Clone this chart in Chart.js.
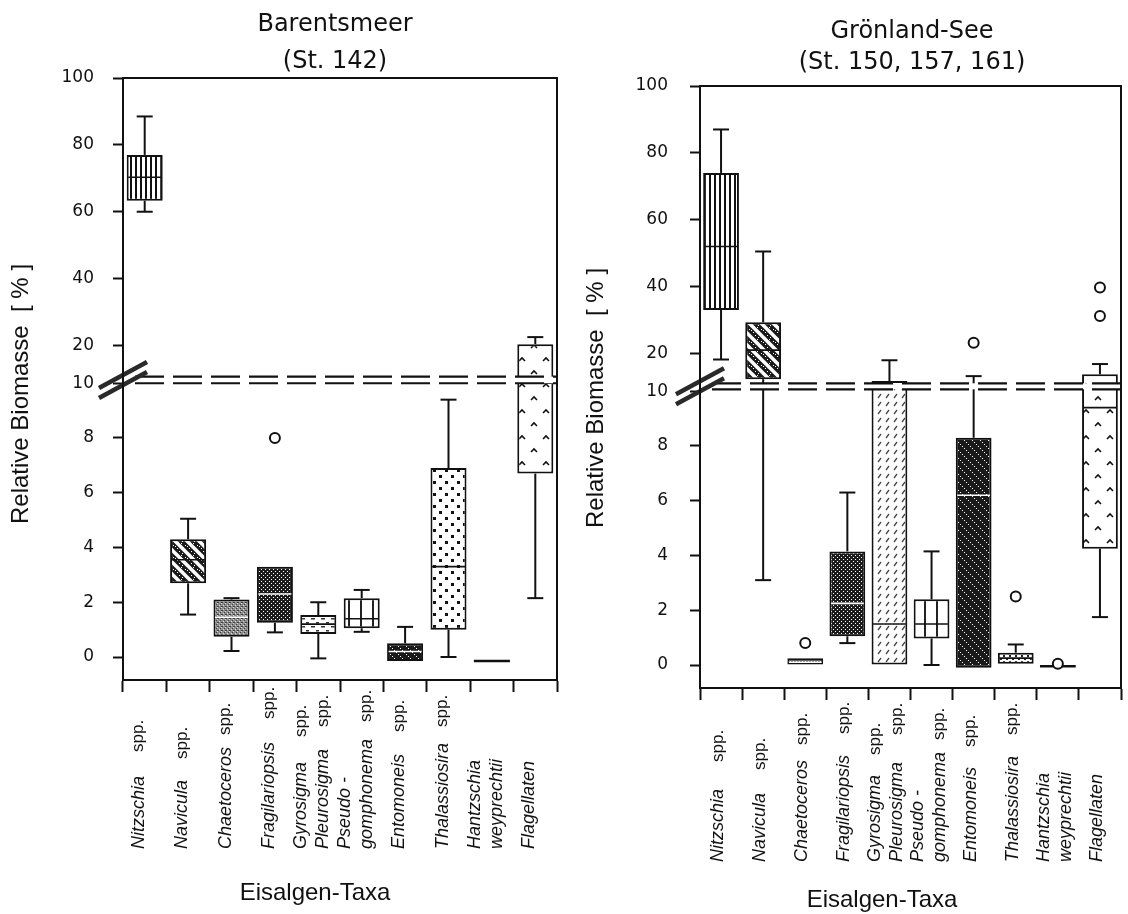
<!DOCTYPE html>
<html>
<head>
<meta charset="utf-8">
<script src="https://cdn.jsdelivr.net/npm/chart.js@4.4.1/dist/chart.umd.min.js"></script>
<style>
  html, body { margin: 0; padding: 0; background: #fff; }
  #wrap { position: relative; width: 1128px; height: 914px; overflow: hidden; }
  canvas { position: absolute; top: 0; }
  #barents { left: 0; }
  #groen { left: 564px; }
</style>
</head>
<body>
<div id="wrap">
  <canvas id="barents" width="564" height="914"></canvas>
  <canvas id="groen" width="564" height="914"></canvas>
</div>
<script>
// ---- categories (ice-algae taxa) ----
const taxa = ['Nitzschia', 'Navicula', 'Chaetoceros', 'Fragilariopsis', 'Gyrosigma/Pleurosigma',
              'Pseudo-gomphonema', 'Entomoneis', 'Thalassiosira', 'Hantzschia weyprechtii', 'Flagellaten'];
// rotated tick labels: each line is [genus (italic), suffix (upright)]
const taxaLines = [
  [['Nitzschia', 'spp.']],
  [['Navicula', 'spp.']],
  [['Chaetoceros', 'spp.']],
  [['Fragilariopsis', 'spp.']],
  [['Gyrosigma', 'spp.'], ['Pleurosigma', 'spp.']],
  [['Pseudo -', ''], ['gomphonema', 'spp.']],
  [['Entomoneis', 'spp.']],
  [['Thalassiosira', 'spp.']],
  [['Hantzschia', ''], ['weyprechtii', '']],
  [['Flagellaten', '']]
];

// ---- Barentsmeer (St. 142): relative biomass in % ----
const barMin      = [60.0, 1.55, 0.22, 0.90, -0.05, 0.92, -0.15, 0.00, -0.15, 2.15];
const barQ1       = [63.3, 2.69, 0.74, 1.25,  0.84, 1.05, -0.15, 1.00, -0.15, 6.70];
const barMedian   = [70.3, 3.55, 1.45, 2.30,  1.20, 1.40,  0.20, 3.30, -0.15, 10.0];
const barQ3       = [77.0, 4.30, 2.10, 3.30,  1.53, 2.15,  0.50, 6.90, -0.15, 20.4];
const barMax      = [88.5, 5.05, 2.15, 3.30,  2.00, 2.45,  1.10, 9.40, -0.15, 22.5];
const barOutliers = [[], [], [], [8.0], [], [], [], [], [], []];

// ---- Grönland-See (St. 150, 157, 161) ----
const groMin      = [18.4,  3.1, 0.00, 0.80,  0.0, 0.00, -0.10, 0.05, -0.05, 1.75];
const groQ1       = [33.0, 13.2, 0.00, 1.05,  0.0, 0.97, -0.10, 0.05, -0.05, 4.25];
const groMedian   = [52.0, 21.0, 0.10, 2.25,  1.5, 1.50,  6.20, 0.25, -0.05, 9.40];
const groQ3       = [74.0, 29.3, 0.25, 4.15, 12.7, 2.40,  8.30, 0.45, -0.05, 14.5];
const groMax      = [87.0, 50.5, 0.25, 6.30, 18.2, 4.15, 14.00, 0.75, -0.05, 17.2];
const groOutliers = [[], [], [0.8], [], [], [], [23.2], [2.5], [0.05], [31.2, 39.7]];

// ---- y axis ticks ----
const yTickValues = [0, 2, 4, 6, 8, 10, 20, 40, 60, 80, 100];

// broken axis: linear up to 10, compressed above
const breakFrom = [0, 10, 20, 100];
const breakTo   = [0, 10, 11.38, 21.15];
function toAxis(v) {
  if (v <= breakFrom[1]) return v;
  for (let k = 1; k < breakFrom.length - 1; k++) {
    if (v <= breakFrom[k + 1]) {
      const f = (v - breakFrom[k]) / (breakFrom[k + 1] - breakFrom[k]);
      return breakTo[k] + f * (breakTo[k + 1] - breakTo[k]);
    }
  }
  return breakTo[breakTo.length - 1];
}

// ---- hatch fills ----
function makeTile(w, h, paint) {
  const c = document.createElement('canvas');
  c.width = w; c.height = h;
  const g = c.getContext('2d');
  g.fillStyle = '#fff';
  g.fillRect(0, 0, w, h);
  paint(g);
  return c;
}
const tiles = {
  vstripe: makeTile(5, 5, g => { g.fillStyle = '#111'; g.fillRect(0, 0, 2, 5); }),
  diagband: makeTile(12, 12, g => {
    g.strokeStyle = '#1a1a1a'; g.lineWidth = 5;
    for (const o of [-12, 0, 12]) { g.beginPath(); g.moveTo(o - 2, -2); g.lineTo(o + 14, 14); g.stroke(); }
    g.fillStyle = '#fff';
    [[2, 1], [5, 5], [9, 8], [11, 11], [1, 3], [7, 6]].forEach(p => g.fillRect(p[0], p[1], 1, 1));
  }),
  gray: makeTile(4, 4, g => {
    g.fillStyle = '#8e8e8e'; g.fillRect(0, 0, 4, 4);
    g.fillStyle = '#3c3c3c'; g.fillRect(0, 0, 1, 1); g.fillRect(2, 2, 1, 1); g.fillRect(1, 2, 1, 1);
    g.fillStyle = '#d8d8d8'; g.fillRect(1, 3, 1, 1); g.fillRect(3, 1, 1, 1);
  }),
  stipple: makeTile(4, 4, g => {
    g.fillStyle = '#1c1c1c'; g.fillRect(0, 0, 4, 4);
    g.fillStyle = '#fff'; g.fillRect(1, 1, 1, 1); g.fillRect(3, 3, 1, 1);
  }),
  darkdot: makeTile(3, 3, g => {
    g.fillStyle = '#444'; g.fillRect(0, 0, 3, 3);
    g.fillStyle = '#ddd'; g.fillRect(1, 1, 1, 1);
  }),
  dashes: makeTile(10, 8, g => {
    g.fillStyle = '#333'; g.fillRect(1, 2, 4, 1.5); g.fillRect(6, 6, 3, 1.5);
  }),
  slashes: makeTile(8, 8, g => {
    g.strokeStyle = '#444'; g.lineWidth = 1.3;
    g.beginPath(); g.moveTo(2, 6); g.lineTo(5, 2); g.stroke();
  }),
  vgrid: makeTile(12, 2, g => { g.fillStyle = '#222'; g.fillRect(0, 0, 2, 2); }),
  darkdiag: makeTile(8, 8, g => {
    g.fillStyle = '#1a1a1a'; g.fillRect(0, 0, 8, 8);
    g.fillStyle = '#fff'; [0, 2, 4, 6].forEach(i => g.fillRect(i, i, 1, 1));
  }),
  squares: makeTile(12, 12, g => {
    g.fillStyle = '#111'; g.fillRect(1, 1, 3, 3); g.fillRect(7, 7, 3, 3);
  }),
  dots: makeTile(6, 6, g => {
    g.fillStyle = '#222'; g.fillRect(1, 1, 2, 2); g.fillRect(4, 4, 2, 2);
  }),
  carets: makeTile(24, 26, g => {
    g.strokeStyle = '#111'; g.lineWidth = 1.6;
    [[6, 7], [18, 20]].forEach(p => {
      g.beginPath(); g.moveTo(p[0] - 3, p[1] + 3); g.lineTo(p[0], p[1]); g.lineTo(p[0] + 3, p[1] + 3); g.stroke();
    });
  }),
  none: makeTile(2, 2, () => {})
};
const darkFills = new Set(['gray', 'stipple', 'darkdot', 'darkdiag']);

const leftFills  = ['vstripe', 'diagband', 'gray', 'stipple', 'dashes', 'vgrid', 'darkdiag', 'squares', 'none', 'carets'];
const rightFills = ['vstripe', 'diagband', 'darkdot', 'stipple', 'slashes', 'vgrid', 'darkdiag', 'dots', 'none', 'carets'];

// gap (px) between genus name and "spp."
const leftSppGap  = [[24], [21], [12], [23], [25, 22], [0, 17], [22], [16], [0, 0], [0]];
const rightSppGap = [[27], [23], [15], [21], [20, 27], [0, 12], [20], [21], [0, 0], [0]];

const TITLE_FONT = "'DejaVu Sans', sans-serif";
const TEXT_FONT = "'Liberation Sans', Arial, sans-serif";

// whiskers, medians, axis break, frame and text
const boxDecor = {
  id: 'boxDecor',
  afterDatasetDraw(chart, args, o) {
    if (args.meta.type !== 'bar') return;
    const ctx = chart.ctx, ys = chart.scales.y;
    const Y = v => ys.getPixelForValue(toAxis(v));
    const line = (x1, y1, x2, y2) => { ctx.beginPath(); ctx.moveTo(x1, y1); ctx.lineTo(x2, y2); ctx.stroke(); };
    ctx.save();
    o.q1.forEach((q1, i) => {
      const el = args.meta.data[i];
      const x = el.x, half = el.width / 2, cap = 8;
      const q3 = o.q3[i], lo = o.min[i], hi = o.max[i], med = o.median[i];
      ctx.strokeStyle = '#111'; ctx.lineWidth = 2;
      if (hi > q3) { line(x, Y(q3), x, Y(hi)); line(x - cap, Y(hi), x + cap, Y(hi)); }
      if (lo < q1) { line(x, Y(q1), x, Y(lo)); line(x - cap, Y(lo), x + cap, Y(lo)); }
      if (q3 > q1) {
        ctx.strokeStyle = darkFills.has(o.fills[i]) ? '#fff' : '#111';
        ctx.lineWidth = 1.6;
        line(x - half + 1.5, Y(med), x + half - 1.5, Y(med));
      } else {
        ctx.lineWidth = 2.5;
        line(x - half, Y(med), x + half, Y(med));
      }
    });
    ctx.restore();
  },
  afterDatasetsDraw(chart, args, o) {
    const ctx = chart.ctx, a = chart.chartArea, ys = chart.scales.y;
    const yLo = ys.getPixelForValue(o.breakLines[0]);
    const yHi = ys.getPixelForValue(o.breakLines[1]);
    ctx.save();
    // blank band of the axis break
    ctx.fillStyle = '#fff';
    ctx.fillRect(a.left + 1, yHi, a.right - a.left - 2, yLo - yHi);
    ctx.strokeStyle = '#111';
    ctx.lineWidth = 2.2;
    ctx.setLineDash([29, 9]);
    [yLo, yHi].forEach(y => {
      ctx.beginPath(); ctx.moveTo(a.left + 12, y); ctx.lineTo(a.right, y); ctx.stroke();
    });
    ctx.setLineDash([]);
    // double slash on the y axis
    const yc = (yLo + yHi) / 2;
    ctx.lineWidth = 4.5;
    ctx.strokeStyle = '#2a2a2a';
    [-5, 5].forEach(d => {
      ctx.beginPath();
      ctx.moveTo(a.left - 24, yc + d + 13);
      ctx.lineTo(a.left + 24, yc + d - 13);
      ctx.stroke();
    });
    ctx.restore();
  },
  afterDraw(chart, args, o) {
    const ctx = chart.ctx, a = chart.chartArea, xs = chart.scales.x;
    ctx.save();
    // frame
    ctx.strokeStyle = '#111';
    ctx.lineWidth = 2;
    ctx.strokeRect(a.left, a.top, a.right - a.left, a.bottom - a.top);
    ctx.fillStyle = '#111';
    // title
    ctx.textAlign = 'center';
    ctx.textBaseline = 'middle';
    ctx.font = '24px ' + TITLE_FONT;
    o.title.forEach((t, k) => ctx.fillText(t, o.titleX, o.titleY[k]));
    // x axis title
    ctx.font = '24px ' + TEXT_FONT;
    ctx.fillText(o.xTitle, o.xTitleX, o.xTitleY);
    // y axis title
    ctx.save();
    ctx.translate(o.yTitleX, o.yTitleY);
    ctx.rotate(-Math.PI / 2);
    ctx.font = '24px ' + TEXT_FONT;
    ctx.fillText(o.yTitle, 0, 0);
    ctx.restore();
    // rotated taxon labels
    taxaLines.forEach((lines, i) => {
      const xc = xs.getPixelForValue(i) + o.labelShift;
      lines.forEach((ln, j) => {
        const lx = xc + (j - (lines.length - 1) / 2) * 22;
        ctx.save();
        ctx.translate(lx, o.labelStart);
        ctx.rotate(-Math.PI / 2);
        ctx.textAlign = 'left';
        ctx.textBaseline = 'middle';
        ctx.font = 'italic 18px ' + TEXT_FONT;
        ctx.fillText(ln[0], 0, 0);
        if (ln[1]) {
          const w = ctx.measureText(ln[0]).width;
          ctx.font = '17px ' + TEXT_FONT;
          ctx.fillText(ln[1], w + o.sppGap[i][j], 0);
        }
        ctx.restore();
      });
    });
    ctx.restore();
  }
};

function buildChart(id, s) {
  const ctx = document.getElementById(id).getContext('2d');
  const patterns = s.fills.map(f => ctx.createPattern(tiles[f], 'repeat'));
  const outlierPoints = [];
  s.outliers.forEach((arr, i) => arr.forEach(v => outlierPoints.push({ x: taxa[i], y: toAxis(v) })));
  return new Chart(ctx, {
    type: 'bar',
    data: {
      labels: taxa,
      datasets: [
        {
          type: 'bar',
          order: 2,
          data: s.q1.map((q, i) => [toAxis(q), toAxis(s.q3[i])]),
          backgroundColor: patterns,
          borderColor: '#111',
          borderWidth: 2,
          borderSkipped: false,
          barPercentage: s.barPct,
          categoryPercentage: 1
        },
        {
          type: 'line',
          order: 1,
          data: outlierPoints,
          showLine: false,
          pointStyle: 'circle',
          pointRadius: 5,
          pointBorderWidth: 2,
          pointBorderColor: '#111',
          pointBackgroundColor: '#fff'
        }
      ]
    },
    options: {
      responsive: false,
      animation: false,
      devicePixelRatio: 1,
      layout: { padding: { left: 0, top: s.top, right: s.right, bottom: 0 } },
      plugins: {
        legend: { display: false },
        tooltip: { enabled: false },
        boxDecor: {
          q1: s.q1, q3: s.q3, min: s.min, max: s.max, median: s.median, fills: s.fills,
          breakLines: s.breakLines,
          title: s.title, titleX: s.titleX, titleY: s.titleY,
          xTitle: 'Eisalgen-Taxa', xTitleX: s.xTitleX, xTitleY: s.xTitleY,
          yTitle: 'Relative Biomasse  [ % ]', yTitleX: s.yTitleX, yTitleY: s.yTitleY,
          labelStart: s.labelStart, labelShift: s.labelShift, sppGap: s.sppGap
        }
      },
      scales: {
        x: {
          type: 'category',
          offset: true,
          afterFit: sc => { sc.height = 914 - s.bottom; },
          grid: { offset: true, drawOnChartArea: false, drawTicks: true, tickLength: 12, tickWidth: 2, tickColor: '#111' },
          border: { display: true, color: '#111', width: 2 },
          ticks: { display: false }
        },
        y: {
          type: 'linear',
          min: -0.84,
          max: toAxis(100),
          afterFit: sc => { sc.width = s.left; },
          afterBuildTicks: sc => { sc.ticks = yTickValues.map(v => ({ value: toAxis(v) })); },
          grid: { drawOnChartArea: false, drawTicks: true, tickLength: 10, tickWidth: 2, tickColor: '#111' },
          border: { display: true, color: '#111', width: 2 },
          ticks: {
            autoSkip: false,
            padding: s.tickPad,
            color: '#111',
            font: { family: TITLE_FONT, size: 17 },
            callback: (val, idx) => String(yTickValues[idx])
          }
        }
      }
    },
    plugins: [boxDecor]
  });
}

buildChart('barents', {
  q1: barQ1, q3: barQ3, min: barMin, max: barMax, median: barMedian, outliers: barOutliers,
  fills: leftFills, sppGap: leftSppGap, barPct: 0.83,
  left: 123, top: 78, right: 5, bottom: 680, tickPad: 19,
  breakLines: [10.0, 10.24],
  title: ['Barentsmeer', '(St. 142)'], titleX: 335, titleY: [25, 62],
  xTitleX: 315, xTitleY: 893, yTitleX: 21, yTitleY: 394, labelStart: 849, labelShift: -6
});

buildChart('groen', {
  q1: groQ1, q3: groQ3, min: groMin, max: groMax, median: groMedian, outliers: groOutliers,
  fills: rightFills, sppGap: rightSppGap, barPct: 0.85,
  left: 136, top: 86, right: 6, bottom: 688, tickPad: 22,
  breakLines: [10.07, 10.29],
  title: ['Grönland-See', '(St. 150, 157, 161)'], titleX: 912 - 564, titleY: [32, 63],
  xTitleX: 882 - 564, xTitleY: 900, yTitleX: 596 - 564, yTitleY: 398, labelStart: 862, labelShift: -3
});
</script>
</body>
</html>
